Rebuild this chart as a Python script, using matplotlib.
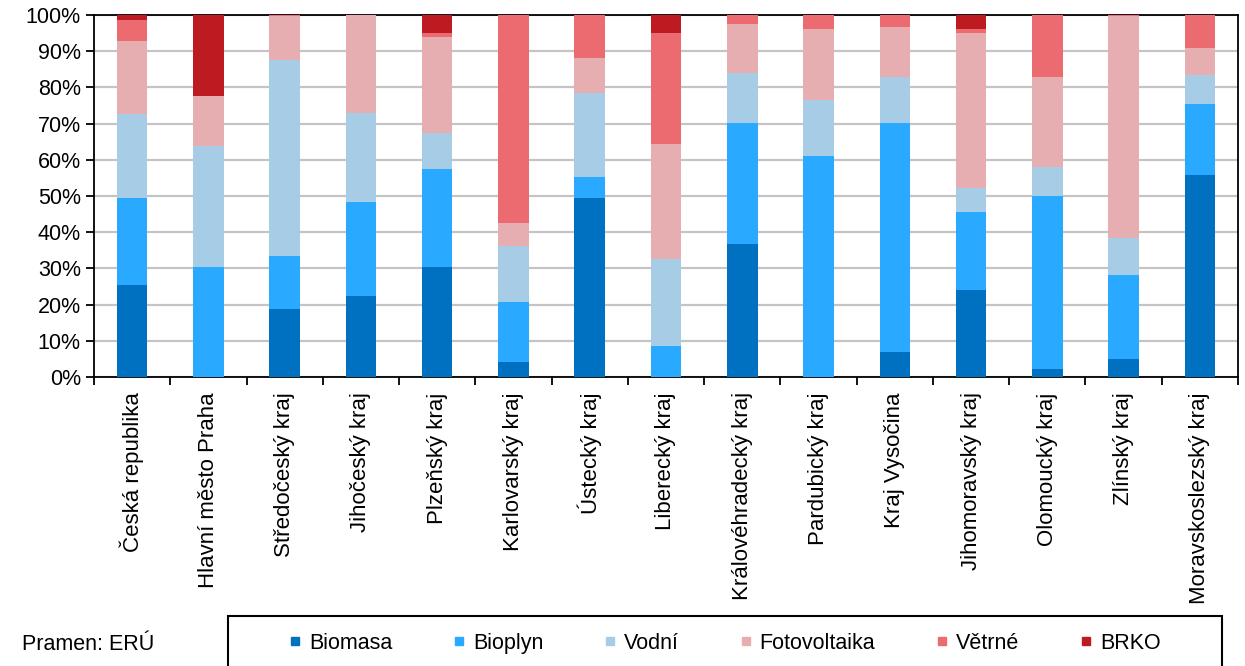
import numpy as np
import matplotlib.pyplot as plt
from matplotlib.lines import Line2D
from matplotlib.patches import Rectangle

plt.rcParams['font.family'] = ['Liberation Sans', 'DejaVu Sans']

# Data (shares in %)
regions = ["Česká republika", "Hlavní město Praha", "Středočeský kraj", "Jihočeský kraj",
           "Plzeňský kraj", "Karlovarský kraj", "Ústecký kraj", "Liberecký kraj",
           "Královéhradecký kraj", "Pardubický kraj", "Kraj Vysočina", "Jihomoravský kraj",
           "Olomoucký kraj", "Zlínský kraj", "Moravskoslezský kraj"]
biomasa = [25.3, 0.0, 18.9, 22.4, 30.5, 4.1, 49.4, 0.0, 36.8, 0.0, 6.9, 24.1, 2.2, 5.1, 55.8]
bioplyn = [24.1, 30.5, 14.4, 25.9, 27.0, 16.5, 5.8, 8.6, 33.4, 61.0, 63.3, 21.4, 47.8, 23.0, 19.6]
vodni = [23.2, 33.4, 54.2, 24.7, 9.8, 15.6, 23.2, 24.1, 13.9, 15.6, 12.7, 6.8, 8.1, 10.4, 8.0]
fotovoltaika = [20.1, 13.8, 12.2, 27.0, 26.5, 6.4, 9.6, 31.7, 13.3, 19.5, 13.9, 42.7, 24.8, 61.2, 7.6]
vetrne = [5.8, 0.0, 0.3, 0.0, 1.2, 57.4, 12.0, 30.6, 2.6, 3.9, 3.2, 1.1, 17.1, 0.3, 9.0]
brko = [1.5, 22.3, 0.0, 0.0, 5.0, 0.0, 0.0, 5.0, 0.0, 0.0, 0.0, 3.9, 0.0, 0.0, 0.0]

series = [("Biomasa", biomasa, "#0070C0"),
          ("Bioplyn", bioplyn, "#29A9FF"),
          ("Vodní", vodni, "#A6CCE6"),
          ("Fotovoltaika", fotovoltaika, "#E6AEB1"),
          ("Větrné", vetrne, "#EB6B71"),
          ("BRKO", brko, "#BE1A22")]

fig = plt.figure(figsize=(12.45, 6.66), dpi=100)
ax = fig.add_axes([94 / 1245, 289 / 666, 1144 / 1245, 362 / 666])

x = np.arange(len(regions))
bottom = np.zeros(len(regions))
for name, vals, col in series:
    vals = np.array(vals)
    ax.bar(x, vals, 0.4, bottom=bottom, color=col, zorder=3)
    bottom += vals

ax.set_xlim(-0.5, len(regions) - 0.5)
ax.set_ylim(0, 100)
ax.set_yticks(np.arange(0, 101, 10))
ax.set_yticklabels([f"{v}%" for v in range(0, 101, 10)])
ax.yaxis.grid(True, color="#C4C4C4", lw=1.6, zorder=0)
ax.set_axisbelow(True)

ax.set_xticks(x)
ax.set_xticklabels(regions, rotation=90, va="top", ha="center")
ax.set_xticks(np.arange(-0.5, len(regions)), minor=True)
ax.tick_params(axis="x", which="major", length=0, pad=11, labelsize=16)
ax.tick_params(axis="x", which="minor", length=5.5, width=1.3, direction="out")
ax.tick_params(axis="y", length=5.5, width=1.3, labelsize=15.5, pad=4)
for s in ax.spines.values():
    s.set_linewidth(1.3)
    s.set_color("black")

# legend with box running off the bottom
fig.add_artist(Rectangle((228 / 1245, -0.05), (1222 - 228) / 1245, 0.0751 + 0.05,
                         transform=fig.transFigure, fill=False, lw=1.5, ec="black"))
handles = [Line2D([], [], ls="none", marker="s", ms=5.5, color=c, mec=c) for _, _, c in series]
fig.legend(handles, [n for n, _, _ in series], ncol=6, frameon=False,
           loc="center left", bbox_to_anchor=(288.5 / 1245, 0.0345),
           fontsize=15.5, handlelength=0.6, handletextpad=0.35, columnspacing=2.8,
           borderpad=0, borderaxespad=0)

fig.text(22 / 1245, 0.017, "Pramen: ERÚ", fontsize=15.5, ha="left", va="bottom")

fig.savefig("out.png", dpi=100)
